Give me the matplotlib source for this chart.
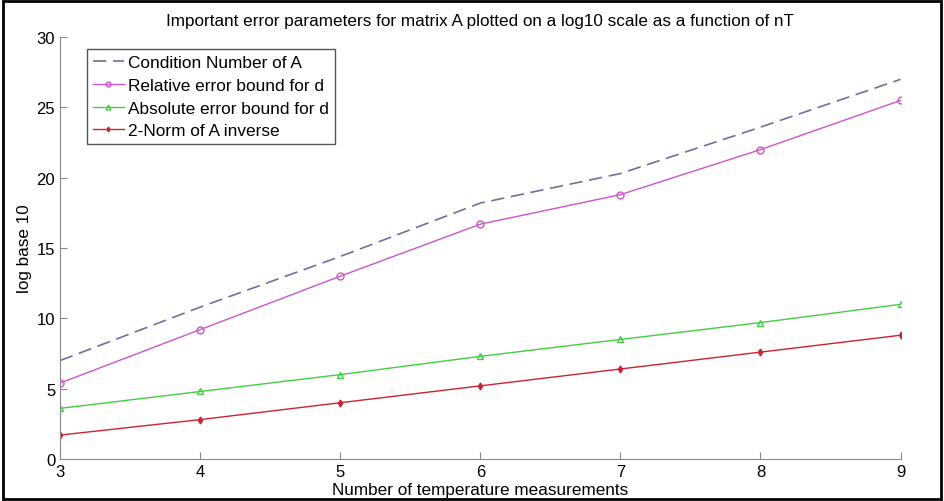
import matplotlib.pyplot as plt
from matplotlib.patches import Rectangle

plt.rcParams['font.family'] = ['Liberation Sans', 'DejaVu Sans']

n_temp = [3, 4, 5, 6, 7, 8, 9]
cond_number = [7.0, 10.8, 14.4, 18.2, 20.3, 23.6, 27.0]
rel_error = [5.4, 9.2, 13.0, 16.7, 18.8, 22.0, 25.5]
abs_error = [3.6, 4.8, 6.0, 7.3, 8.5, 9.7, 11.0]
norm_inv = [1.7, 2.8, 4.0, 5.2, 6.4, 7.6, 8.8]

fig = plt.figure(figsize=(9.44, 5.02), dpi=100)
ax = fig.add_axes([0.0636, 0.0837, 0.8904, 0.8403])

ax.plot(n_temp, cond_number, color='#6f6f9e', linestyle=(0, (8, 4)), lw=1.2,
        label='Condition Number of A')
ax.plot(n_temp, rel_error, color='#cc55cc', lw=1.0, marker='o', ms=5,
        mfc='none', mew=1.0, label='Relative error bound for d')
ax.plot(n_temp, abs_error, color='#44cc44', lw=1.0, marker='^', ms=5,
        mfc='none', mew=1.0, label='Absolute error bound for d')
ax.plot(n_temp, norm_inv, color='#cc2233', lw=1.0, marker='d', ms=3.5,
        label='2-Norm of A inverse')

ax.set_xlim(3, 9)
ax.set_ylim(0, 30)
ax.set_xticks(n_temp)
ax.set_yticks(range(0, 31, 5))
for side in ('top', 'right'):
    ax.spines[side].set_visible(False)
for side in ('left', 'bottom'):
    ax.spines[side].set_color('#888888')
ax.tick_params(direction='in', color='#888888', labelsize=12, length=5)

ax.set_title('Important error parameters for matrix A plotted on a log10 scale as a function of nT',
             fontsize=12.3, pad=9)
ax.set_xlabel('Number of temperature measurements', fontsize=12.3, labelpad=2)
ax.set_ylabel('log base 10', fontsize=12.3, labelpad=3)

leg = ax.legend(loc='upper left', bbox_to_anchor=(0.032, 0.972), fontsize=12.4,
                fancybox=False, framealpha=1, edgecolor='#555555',
                handlelength=1.8, borderpad=0.35, labelspacing=0.45,
                handletextpad=0.25, borderaxespad=0, markerscale=0.7)
leg.get_frame().set_linewidth(1.0)

fig.patches.append(Rectangle((0.003, 0.003), 0.994, 0.994, transform=fig.transFigure,
                             fill=False, edgecolor='black', lw=2))

fig.savefig('out.png', dpi=100)
